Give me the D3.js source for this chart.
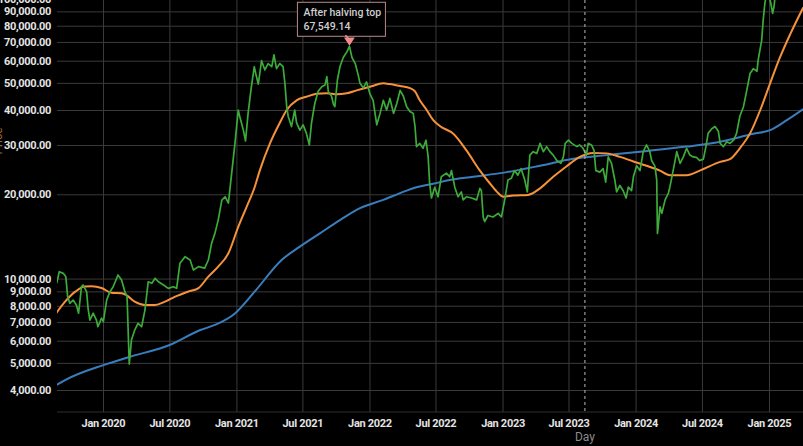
<!DOCTYPE html>
<html><head><meta charset="utf-8">
<script src="https://cdn.jsdelivr.net/npm/d3@7"></script>
<style>html,body{margin:0;padding:0;background:#000;overflow:hidden}</style>
</head><body><svg id="c" width="803" height="446"></svg>
<script>
// ---- data ----
const priceDates = ["2019-08-27","2019-09-03","2019-09-14","2019-09-21","2019-09-26","2019-10-02","2019-10-11","2019-10-20","2019-10-26","2019-11-03","2019-11-07","2019-11-17","2019-11-21","2019-11-26","2019-12-05","2019-12-14","2019-12-18","2019-12-28","2020-01-02","2020-01-11","2020-01-20","2020-01-29","2020-02-11","2020-02-21","2020-03-01","2020-03-07","2020-03-13","2020-03-19","2020-03-28","2020-04-06","2020-04-16","2020-04-25","2020-05-04","2020-05-14","2020-05-23","2020-06-01","2020-06-15","2020-06-28","2020-07-12","2020-07-21","2020-07-30","2020-08-13","2020-08-27","2020-09-05","2020-09-19","2020-10-06","2020-10-16","2020-10-25","2020-11-03","2020-11-12","2020-11-22","2020-12-01","2020-12-10","2020-12-19","2020-12-28","2021-01-06","2021-01-10","2021-01-20","2021-01-26","2021-02-02","2021-02-11","2021-02-19","2021-02-23","2021-03-02","2021-03-11","2021-03-20","2021-03-29","2021-04-08","2021-04-14","2021-04-21","2021-04-30","2021-05-09","2021-05-14","2021-05-19","2021-05-23","2021-06-01","2021-06-10","2021-06-15","2021-06-24","2021-07-03","2021-07-12","2021-07-20","2021-07-26","2021-08-04","2021-08-13","2021-08-23","2021-09-01","2021-09-06","2021-09-10","2021-09-19","2021-09-24","2021-09-28","2021-10-05","2021-10-12","2021-10-21","2021-10-31","2021-11-07","2021-11-14","2021-11-23","2021-12-01","2021-12-06","2021-12-15","2021-12-24","2022-01-02","2022-01-11","2022-01-21","2022-01-30","2022-02-08","2022-02-17","2022-02-26","2022-03-08","2022-03-17","2022-03-26","2022-04-04","2022-04-13","2022-04-22","2022-05-01","2022-05-06","2022-05-10","2022-05-19","2022-05-28","2022-06-05","2022-06-11","2022-06-15","2022-06-20","2022-06-29","2022-07-08","2022-07-17","2022-07-31","2022-08-09","2022-08-14","2022-08-23","2022-09-01","2022-09-10","2022-09-15","2022-09-24","2022-10-08","2022-10-22","2022-10-31","2022-11-04","2022-11-09","2022-11-13","2022-11-22","2022-12-06","2022-12-20","2022-12-29","2023-01-07","2023-01-16","2023-01-25","2023-02-03","2023-02-12","2023-02-21","2023-03-03","2023-03-10","2023-03-17","2023-03-26","2023-04-05","2023-04-14","2023-04-23","2023-05-02","2023-05-11","2023-05-20","2023-05-30","2023-06-10","2023-06-17","2023-06-22","2023-07-01","2023-07-10","2023-07-24","2023-08-01","2023-08-10","2023-08-19","2023-08-24","2023-09-02","2023-09-09","2023-09-14","2023-09-25","2023-10-04","2023-10-11","2023-10-18","2023-10-27","2023-11-05","2023-11-10","2023-11-19","2023-11-28","2023-12-06","2023-12-12","2023-12-21","2023-12-26","2024-01-04","2024-01-13","2024-01-22","2024-01-31","2024-02-09","2024-02-14","2024-02-23","2024-02-28","2024-03-01","2024-03-03","2024-03-08","2024-03-13","2024-03-22","2024-03-31","2024-04-04","2024-04-13","2024-04-23","2024-05-02","2024-05-11","2024-05-20","2024-05-29","2024-06-07","2024-06-16","2024-06-25","2024-07-05","2024-07-12","2024-07-18","2024-07-28","2024-08-06","2024-08-15","2024-08-20","2024-08-29","2024-09-07","2024-09-16","2024-09-26","2024-10-04","2024-10-13","2024-10-23","2024-11-01","2024-11-10","2024-11-19","2024-11-29","2024-12-02","2024-12-12","2024-12-16","2024-12-21","2024-12-29","2025-01-06","2025-01-11","2025-01-15","2025-01-20"];
const priceValues = [9620,10580,10440,10160,8620,8160,8380,8050,7520,9350,9490,8980,7830,7110,7520,7110,6730,7220,7020,8380,8980,9350,10300,9880,8980,8620,4950,6030,6550,6920,6730,7720,9740,9616,10020,9740,9490,9230,9350,9230,11340,11970,11650,10730,11030,10900,11650,13380,14500,16170,19070,19600,18600,23800,30400,40000,38000,33900,31000,38900,48400,57100,54000,49500,60000,55600,58600,57100,62900,56200,58600,57100,49800,41100,38000,34900,40000,36000,33900,35400,33000,30000,36000,42200,46600,48400,49100,52600,46600,44800,42000,41100,51200,57100,61600,64500,67549.14,61600,58600,53400,49800,48000,50400,45800,43300,35400,38900,43300,40000,44000,38900,42200,47000,44800,41100,39500,38900,34900,29600,30400,29200,31200,27200,21900,19400,21200,19600,23100,23800,23100,24300,21200,19600,20400,19100,19600,19400,19100,21000,20600,16600,15980,16800,16600,17100,16600,19100,22500,22800,24300,23400,24700,22500,20400,27600,28400,28000,30400,28400,29600,28400,27600,26400,25800,27200,30400,31200,30400,29600,30000,29200,27600,30400,30000,28700,24300,24000,24700,22100,27200,25800,22500,20400,21500,20600,19400,21200,20600,23100,25300,24300,28400,30000,28400,26400,25200,22500,14500,15300,18050,17100,19100,20200,21200,24300,28400,25800,27200,29200,27600,27200,27100,26400,26700,29600,33000,34300,34900,33600,30400,29600,30800,30400,31200,33000,38000,41100,47000,54000,56200,55000,60000,71100,83600,97000,108000,96000,88500,94000,110000];

const fastMaDates = ["2019-08-22","2019-09-19","2019-10-17","2019-11-12","2019-12-01","2019-12-28","2020-01-24","2020-02-21","2020-03-05","2020-03-28","2020-04-25","2020-05-23","2020-06-19","2020-07-17","2020-08-23","2020-09-19","2020-10-16","2020-11-12","2020-12-10","2021-01-06","2021-01-29","2021-02-20","2021-03-06","2021-04-03","2021-04-30","2021-05-19","2021-06-15","2021-07-12","2021-08-09","2021-09-06","2021-10-03","2021-10-31","2021-11-27","2022-01-02","2022-02-08","2022-02-26","2022-03-26","2022-04-22","2022-05-06","2022-05-19","2022-06-07","2022-06-25","2022-07-14","2022-08-19","2022-09-24","2022-10-31","2022-11-27","2022-12-20","2023-01-03","2023-01-30","2023-03-12","2023-04-14","2023-05-20","2023-06-26","2023-08-01","2023-09-07","2023-10-14","2023-11-19","2023-12-26","2024-01-31","2024-03-08","2024-04-04","2024-05-20","2024-06-25","2024-08-20","2024-09-16","2024-10-13","2024-11-10","2024-12-08","2025-01-04","2025-01-31","2025-02-28","2025-04-05"];
const fastMaValues = [7410,8270,8980,9370,9380,9250,8900,8860,8730,8270,8050,8050,8270,8620,9000,9250,10160,11030,12310,15300,18050,21200,24300,30400,36000,40000,43300,44600,45700,45900,45500,45900,47000,48400,49800,49500,48700,47900,46600,43300,40000,36800,35000,32900,28700,24300,21900,20200,19600,19800,19900,21000,23100,25200,27200,28100,28000,27200,26200,25300,24300,23400,23400,24300,26100,26700,29200,33000,40000,49800,61600,74500,93000];

const slowMaDates = ["2019-08-27","2019-09-19","2020-01-02","2020-03-13","2020-07-02","2020-09-24","2020-11-03","2020-12-28","2021-02-20","2021-05-05","2021-06-24","2021-08-18","2021-10-12","2021-12-06","2022-02-08","2022-03-26","2022-05-10","2022-06-25","2022-08-09","2022-10-13","2023-01-13","2023-04-14","2023-07-14","2023-10-14","2024-01-13","2024-02-18","2024-05-20","2024-08-20","2024-11-19","2025-01-04","2025-02-19","2025-04-05"];
const slowMaValues = [4170,4340,4910,5250,5790,6550,6830,7510,8980,11650,13000,14500,16170,17850,19100,20200,21200,21800,22500,23100,24000,25300,26800,27600,28400,28700,29600,30800,32900,33900,36800,40300];

const yTickValues = [4000,5000,6000,7000,8000,9000,10000,20000,30000,40000,50000,60000,70000,80000,90000,100000];
const xTickDates = ["2020-01-01","2020-07-01","2021-01-01","2021-07-01","2022-01-01","2022-07-01","2023-01-01","2023-07-01","2024-01-01","2024-07-01","2025-01-01"];
const annotationDate = "2021-11-07";
const annotationValue = 67549.14;
const annotationTitle = "After halving top";
const crosshairDate = "2023-08-15";
const xAxisTitle = "Day";
const yAxisTitle = "Price";

// ---- chart ----
const W = 803, H = 446;
const pL = 57, pR = 803, pT = 0, pB = 412;
const parse = d3.utcParse("%Y-%m-%d");
const x = d3.scaleUtc().domain([parse("2020-01-01"), parse("2025-01-01")]).range([103, 769]);
const y = d3.scaleLog().domain([4000, 40000]).range([390, 110]);
const FONT = "Roboto,'Liberation Sans',sans-serif";

const svg = d3.select("#c");
svg.append("rect").attr("width", W).attr("height", H).attr("fill", "#000");
svg.append("defs").append("clipPath").attr("id", "clip")
  .append("rect").attr("x", pL).attr("y", pT - 20).attr("width", pR - pL + 10).attr("height", pB - pT + 20);

// y axis with grid
const yAxis = d3.axisLeft(y).tickValues(yTickValues).tickFormat(d3.format(",.2f"))
  .tickSizeInner(-(pR - pL)).tickSizeOuter(0).tickPadding(6);
const gy = svg.append("g").attr("transform", `translate(${pL},0)`).call(yAxis);
gy.select(".domain").remove();
gy.selectAll("line").attr("stroke", "#3a3a3a").attr("stroke-width", 1);
gy.selectAll("text").attr("fill", "#e4e4e4").attr("font-family", FONT).attr("font-size", 11)
  .attr("font-weight", "bold").attr("letter-spacing", "-0.35px");

// x axis with grid
const xAxis = d3.axisBottom(x).tickValues(xTickDates.map(parse)).tickFormat(d3.utcFormat("%b %Y"))
  .tickSizeInner(-(pB - pT)).tickSizeOuter(0).tickPadding(7);
const gx = svg.append("g").attr("transform", `translate(0,${pB})`).call(xAxis);
gx.select(".domain").attr("stroke", "#2e2e2e").attr("d", `M${pL},0H${pR}`);
gx.selectAll("line").attr("stroke", "#3a3a3a").attr("stroke-width", 1);
gx.selectAll("text").attr("fill", "#e4e4e4").attr("font-family", FONT).attr("font-size", 11)
  .attr("font-weight", "bold").attr("letter-spacing", "-0.3px");

// axis titles
svg.append("text").attr("x", x(parse(crosshairDate))).attr("y", 441).attr("text-anchor", "middle")
  .attr("fill", "#8c8c8c").attr("font-family", FONT).attr("font-size", 12).text(xAxisTitle);
svg.append("text").attr("transform", `translate(2,${141}) rotate(-90)`).attr("text-anchor", "middle")
  .attr("fill", "#9a6a3a").attr("font-family", FONT).attr("font-size", 12).text(yAxisTitle);

// lines
const plot = svg.append("g").attr("clip-path", "url(#clip)");
const series = (dates, vals) => dates.map((d, i) => ({ d: parse(d), v: vals[i] }));
const lineLin = d3.line().x(p => x(p.d)).y(p => y(p.v));
const lineSmooth = d3.line().x(p => x(p.d)).y(p => y(p.v)).curve(d3.curveMonotoneX);

plot.append("path").datum(series(slowMaDates, slowMaValues)).attr("d", lineSmooth)
  .attr("fill", "none").attr("stroke", "#3a7dbd").attr("stroke-width", 2);
plot.append("path").datum(series(fastMaDates, fastMaValues)).attr("d", lineSmooth)
  .attr("fill", "none").attr("stroke", "#f7923a").attr("stroke-width", 2);
plot.append("path").datum(series(priceDates, priceValues)).attr("d", lineLin)
  .attr("fill", "none").attr("stroke", "#3dab3a").attr("stroke-width", 1.7).attr("stroke-linejoin", "round");

// crosshair
const cx = x(parse(crosshairDate));
svg.append("line").attr("x1", cx).attr("x2", cx).attr("y1", pT).attr("y2", pB)
  .attr("stroke", "#b8b8b8").attr("stroke-width", 1).attr("stroke-dasharray", "3,3");

// annotation
const ax = x(parse(annotationDate)), ay = y(annotationValue);
const ann = svg.append("g");
ann.append("rect").attr("x", ax - 52).attr("y", ay - 44).attr("width", 88).attr("height", 34)
  .attr("fill", "#000").attr("stroke", "#b98a8a").attr("stroke-width", 1);
ann.append("text").attr("x", ax - 46).attr("y", ay - 30).attr("fill", "#cfcfcf")
  .attr("font-family", FONT).attr("font-size", 10.5).attr("font-weight", 500).text(annotationTitle);
ann.append("text").attr("x", ax - 46).attr("y", ay - 16).attr("fill", "#cfcfcf")
  .attr("font-family", FONT).attr("font-size", 10.5).attr("font-weight", 500).text(d3.format(",.2f")(annotationValue));
ann.append("path").attr("d", `M${ax - 4},${ay - 8}L${ax + 4},${ay - 8}L${ax},${ay - 2}Z M${ax - 4},${ay - 11}L${ax},${ay - 7}`)
  .attr("fill", "#f28c8c").attr("stroke", "#f28c8c").attr("stroke-width", 1.5);
</script></body></html>
